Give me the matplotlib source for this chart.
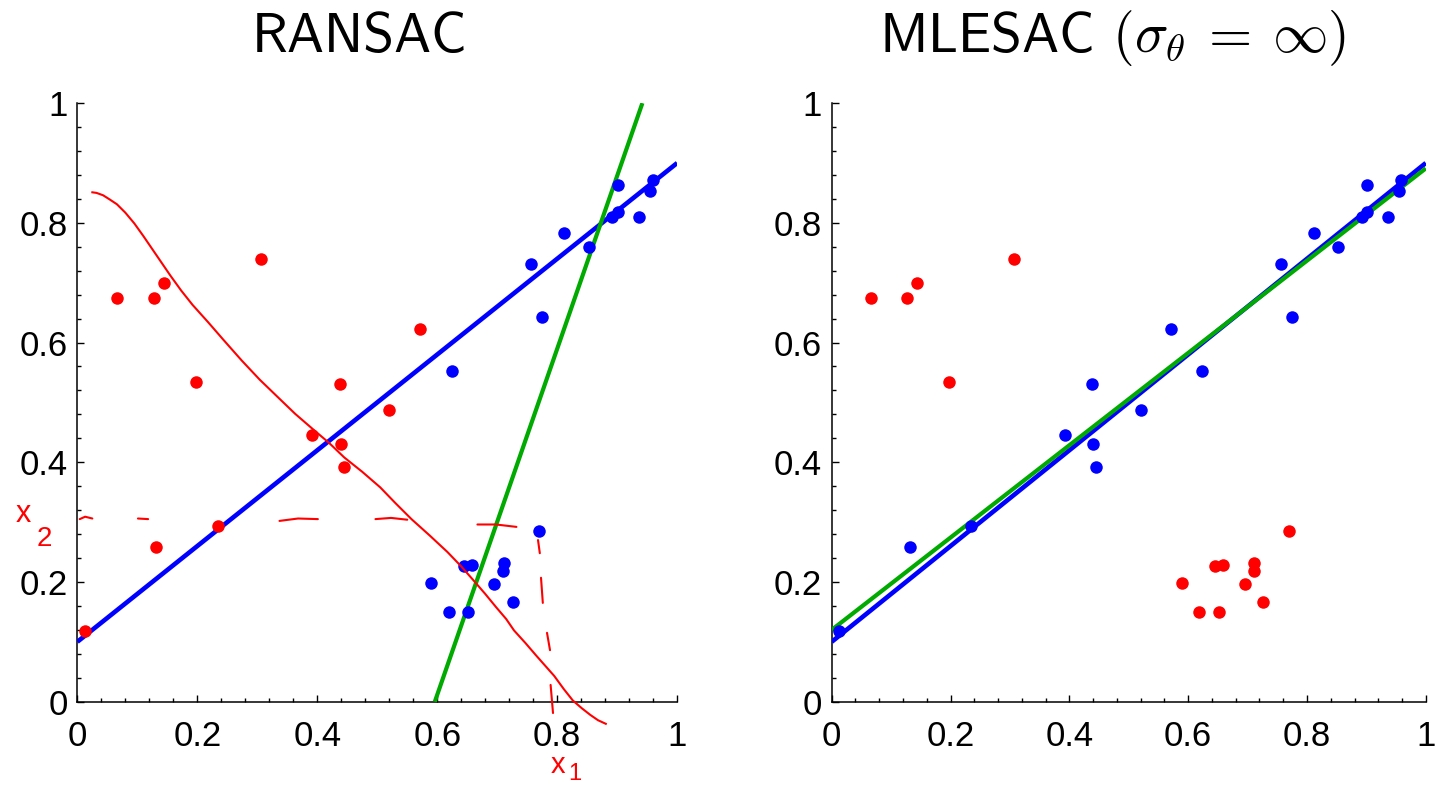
import numpy as np
import matplotlib
matplotlib.use('Agg')
import matplotlib.pyplot as plt
from matplotlib.ticker import FixedLocator, FixedFormatter

plt.rcParams['mathtext.fontset'] = 'cm'
plt.rcParams['font.family'] = ['Liberation Sans', 'DejaVu Sans']

# data points (same set in both panels)
px = [0.066, 0.127, 0.144, 0.306, 0.197, 0.438, 0.571, 0.520, 0.392, 0.440,
      0.445, 0.234, 0.131, 0.013, 0.624, 0.756, 0.775, 0.812, 0.853, 0.892,
      0.901, 0.901, 0.937, 0.955, 0.959, 0.770, 0.590, 0.645, 0.658, 0.711,
      0.710, 0.695, 0.726, 0.619, 0.652]
py = [0.675, 0.674, 0.700, 0.740, 0.534, 0.531, 0.622, 0.488, 0.445, 0.431,
      0.392, 0.293, 0.258, 0.118, 0.553, 0.731, 0.643, 0.783, 0.759, 0.810,
      0.818, 0.863, 0.810, 0.853, 0.871, 0.285, 0.198, 0.226, 0.229, 0.231,
      0.218, 0.197, 0.167, 0.149, 0.149]
# 1 = inlier (blue), 0 = outlier (red)
ransac_in = [0, 0, 0, 0, 0, 0, 0, 0, 0, 0, 0, 0, 0, 0, 1, 1, 1, 1, 1, 1,
             1, 1, 1, 1, 1, 1, 1, 1, 1, 1, 1, 1, 1, 1, 1]
mlesac_in = [0, 0, 0, 0, 0, 1, 1, 1, 1, 1, 1, 1, 1, 1, 1, 1, 1, 1, 1, 1,
             1, 1, 1, 1, 1, 0, 0, 0, 0, 0, 0, 0, 0, 0, 0]

# fitted lines
ransac_blue_x, ransac_blue_y = [0, 1], [0.1, 0.9]
ransac_green_x, ransac_green_y = [0.596, 0.942], [0, 1]
mlesac_blue_x, mlesac_blue_y = [0, 1], [0.1, 0.9]
mlesac_green_x, mlesac_green_y = [0, 1], [0.12, 0.891]

# hand drawn annotation on the RANSAC panel
curve_x = [0.025, 0.032, 0.043, 0.054, 0.066, 0.080, 0.095, 0.110, 0.125,
           0.140, 0.155, 0.173, 0.192, 0.218, 0.244, 0.274, 0.304, 0.334,
           0.363, 0.393, 0.420, 0.445, 0.475, 0.505, 0.530, 0.557, 0.587,
           0.617, 0.640, 0.661, 0.680, 0.698, 0.715, 0.728, 0.747, 0.765,
           0.780, 0.795, 0.811, 0.826, 0.841, 0.855, 0.868, 0.881]
curve_y = [0.851, 0.850, 0.846, 0.839, 0.831, 0.817, 0.799, 0.778, 0.756,
           0.734, 0.712, 0.687, 0.663, 0.634, 0.604, 0.570, 0.538, 0.509,
           0.481, 0.455, 0.432, 0.408, 0.384, 0.358, 0.332, 0.305, 0.278,
           0.250, 0.226, 0.202, 0.180, 0.158, 0.138, 0.119, 0.098, 0.077,
           0.060, 0.043, 0.021, 0.002, -0.011, -0.022, -0.031, -0.037]
dash_h = [([0.004, 0.013, 0.025], [0.305, 0.309, 0.306]),
          ([0.101, 0.118], [0.306, 0.305]),
          ([0.337, 0.368, 0.401], [0.302, 0.306, 0.305]),
          ([0.497, 0.523, 0.550], [0.305, 0.307, 0.304]),
          ([0.667, 0.698, 0.732], [0.296, 0.296, 0.292])]
dash_v = [([0.768, 0.771], [0.270, 0.248]),
          ([0.773, 0.776], [0.207, 0.165]),
          ([0.783, 0.788], [0.115, 0.086]),
          ([0.789, 0.793], [0.028, -0.019])]

tick_vals = [0, 0.2, 0.4, 0.6, 0.8, 1]
tick_labels = ['0', '0.2', '0.4', '0.6', '0.8', '1']
minor_vals = [v for v in np.arange(0, 1.001, 0.04) if round(v / 0.2, 3) % 1 != 0]

BLUE = '#0000ff'
RED = '#ff0000'
GREEN = '#00aa00'


def style_axes(ax):
    ax.set_xlim(0, 1)
    ax.set_ylim(0, 1)
    for s in ['top', 'right']:
        ax.spines[s].set_visible(False)
    for s in ['left', 'bottom']:
        ax.spines[s].set_linewidth(1.1)
    ax.xaxis.set_major_locator(FixedLocator(tick_vals))
    ax.yaxis.set_major_locator(FixedLocator(tick_vals))
    ax.xaxis.set_major_formatter(FixedFormatter(tick_labels))
    ax.yaxis.set_major_formatter(FixedFormatter(tick_labels))
    ax.xaxis.set_minor_locator(FixedLocator(minor_vals))
    ax.yaxis.set_minor_locator(FixedLocator(minor_vals))
    ax.tick_params(which='both', direction='in', width=1.0)
    ax.tick_params(which='major', length=5)
    ax.tick_params(which='minor', length=3)
    ax.tick_params(axis='x', which='major', labelsize=25, pad=13)
    ax.tick_params(axis='y', which='major', labelsize=25, pad=7)


def draw_points(ax, inl):
    inl = np.array(inl, dtype=bool)
    x = np.array(px)
    y = np.array(py)
    ax.plot(x[~inl], y[~inl], 'o', color=RED, ms=9, mec='none', zorder=5)
    ax.plot(x[inl], y[inl], 'o', color=BLUE, ms=9, mec='none', zorder=5)


fig = plt.figure(figsize=(14.35, 7.86), dpi=100)
ax1 = fig.add_axes([0.0539, 0.1073, 0.418, 0.7615])
ax2 = fig.add_axes([0.5796, 0.1073, 0.414, 0.7615])

# RANSAC
style_axes(ax1)
ax1.plot(ransac_blue_x, ransac_blue_y, color=BLUE, lw=3.3, zorder=3,
         solid_capstyle='butt')
ax1.plot(ransac_green_x, ransac_green_y, color=GREEN, lw=3.0, zorder=3,
         solid_capstyle='butt')
draw_points(ax1, ransac_in)
ax1.plot(curve_x, curve_y, color=RED, lw=1.5, zorder=6, clip_on=False)
for xs, ys in dash_h + dash_v:
    ax1.plot(xs, ys, color=RED, lw=1.5, zorder=6, clip_on=False,
             solid_capstyle='round')
ax1.text(-0.09, 0.313, 'x', color=RED, fontsize=22, ha='center', va='center',
         clip_on=False)
ax1.text(-0.055, 0.272, '2', color=RED, fontsize=20, ha='center', va='center',
         clip_on=False)
ax1.text(0.801, -0.106, 'x', color=RED, fontsize=21, ha='center', va='center',
         clip_on=False)
ax1.text(0.829, -0.121, '1', color=RED, fontsize=17, ha='center', va='center',
         clip_on=False)
ax1.text(0.47, 1.0856, 'RANSAC', transform=ax1.transAxes, fontsize=40,
         family='cmss10', ha='center', va='baseline')

# MLESAC
style_axes(ax2)
ax2.plot(mlesac_blue_x, mlesac_blue_y, color=BLUE, lw=3.3, zorder=3,
         solid_capstyle='butt')
ax2.plot(mlesac_green_x, mlesac_green_y, color=GREEN, lw=3.0, zorder=3,
         solid_capstyle='butt')
draw_points(ax2, mlesac_in)
ax2.text(0.473, 1.0856, r'MLESAC $(\sigma_\theta\:=\:\infty)$',
         transform=ax2.transAxes, fontsize=40, family='cmss10',
         ha='center', va='baseline')

fig.savefig('out.png', dpi=100)
